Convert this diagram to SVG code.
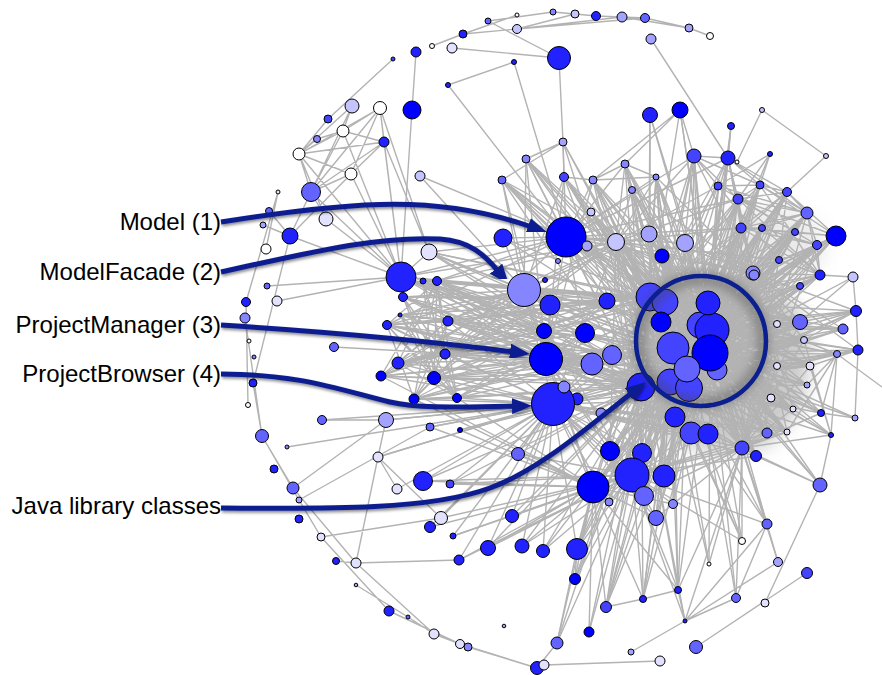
<svg xmlns="http://www.w3.org/2000/svg" width="882" height="675" viewBox="0 0 882 675">
<style>
.e{stroke:#b3b3b3;stroke-width:1.4;fill:none;stroke-linecap:round}
#nodes circle{stroke:#000;stroke-width:1}
.c0{fill:#0000ff}.c1{fill:#2222ff}.c2{fill:#4444ff}.c3{fill:#6363ff}.c4{fill:#8585ff}.c5{fill:#a3a3ff}.c6{fill:#c4c4ff}.c7{fill:#e2e2ff}.c8{fill:#ffffff}
.lbl{font-family:"Liberation Sans",Arial,Helvetica,sans-serif;font-size:24px;fill:#000;text-anchor:end}
.arr{fill:none;stroke:#0b1f8f;stroke-width:5;marker-end:url(#head);filter:url(#sh)}
</style>
<defs>
<marker id="head" viewBox="0 0 10 8" refX="2" refY="4" markerWidth="4" markerHeight="3.2" orient="auto" markerUnits="strokeWidth">
<path d="M0 0L10 4L0 8z" fill="#0b1f8f"/>
</marker>
<filter id="sh" x="-10%" y="-20%" width="120%" height="140%">
<feDropShadow dx="1" dy="2" stdDeviation="1.5" flood-color="#000" flood-opacity="0.45"/>
</filter>
<filter id="blur" x="-30%" y="-30%" width="160%" height="160%">
<feGaussianBlur stdDeviation="5"/>
</filter>
<filter id="soft" x="-30%" y="-30%" width="160%" height="160%">
<feGaussianBlur stdDeviation="9"/>
</filter>
</defs>
<rect width="882" height="675" fill="#fff"/>

<!-- solid-looking bundle of edges round the library cluster -->
<path d="M645 276L700 266L760 284L800 308L812 350L802 408L768 446L722 455L666 440L636 402L630 334Z" fill="#b9b9b9" opacity="0.75" filter="url(#soft)"/>
<path d="M722 212L780 204L818 222L826 256L804 280L760 286L726 264Z" fill="#c4c4c4" opacity="0.35" filter="url(#soft)"/>

<!-- connectors -->
<g id="edges" class="e">
<path d="M432 46L463 34M463 34L517 15M463 34L517 29M488 21L553 12M488 21L559 58M517 29L575 14M517 29L622 17M517 29L645 18M553 12L575 14M575 14L596 16M596 16L622 17M596 16L645 18M622 17L645 18M622 17L689 28M645 18L689 28M689 28L710 36M452 48L559 58M559 58L563 142M514 62L448 85M448 85L566 237M514 62L566 237M412 110L416 52M412 110L401 277M393 59L328 119M420 176L524 290M651 39L728 158M680 110L593 180M680 110L625 164M680 110L694 156M650 115L649 234M694 156L728 158M731 126L728 158M762 110L737 162M762 110L826 156M826 156L787 192M770 154L760 185M770 154L738 199M563 142L526 159M563 142L502 180M563 142L564 177M593 180L656 177M593 180L625 164M625 164L656 177M564 177L593 180"/>
<path d="M343 131L380 108M343 131L384 142M343 131L352 106M299 154L343 131M299 154L380 108M299 154L384 142M299 154L352 106M351 174L380 108M351 174L384 142M351 174L299 154M311 192L380 108M311 192L343 131M311 192L384 142M311 192L351 174M311 192L299 154M311 192L352 106M384 142L380 108M328 119L299 154M317 139L343 131M317 139L299 154M384 142L401 277M380 108L401 277M343 131L401 277M380 108L429 252M299 154L401 277M351 174L401 277M326 219L401 277M290 236L401 277M267 286L401 277M277 301L401 277M311 192L401 277M311 192L290 236M311 192L326 219M290 236L263 225M290 236L269 211M326 219L299 154M351 174L290 236M384 142L429 252"/>
<path d="M278 192L246 302M278 192L266 249M290 236L253 383M246 302L248 405M245 318L262 436M253 383L262 436M262 436L293 488M262 436L299 500M299 500L321 537M293 488L356 563M321 537L389 611M356 585L408 617M356 563L434 634M389 611L460 644M434 634L468 647M460 644L537 668M468 647L537 668M408 617L434 634M336 561L356 563M356 563L459 560M356 563L378 457M378 457L441 518M378 457L397 489M378 457L553 404M321 537L441 518M293 488L386 420M299 500L430 427M322 420L386 420M287 447L553 404M386 420L378 457M386 420L553 404M537 668L557 643M660 661L544 665"/>
<path d="M577 549L575 579M557 643L577 549M589 632L593 487M606 607L643 599M643 599L678 590M685 621L736 598M685 621L778 562M685 621L631 652M685 621L678 590M696 647L807 573M765 603L820 485M820 485L756 456M820 485L831 435M820 485L742 448M742 541L691 433M709 564L675 417M778 562L767 524M767 524L736 598M767 524L685 621M736 598L708 434M853 277L820 275M853 277L800 322M853 277L856 311M856 311L858 350M858 350L855 418M856 311L800 322M856 311L804 340M843 329L804 340M843 329L777 324M858 350L810 366M858 350L777 366M837 354L882 387M837 354L807 385M837 354L831 435M837 354L821 413M837 354L787 432M821 413L855 418M821 413L777 366M831 435L804 340M831 435L810 366"/>
<path d="M738 199L760 185M738 199L787 192M738 199L807 213M738 199L741 228M738 199L795 232M738 199L836 236M718 186L760 185M718 186L807 213M718 186L817 245M760 185L787 192M760 185L807 213M760 185L741 228M760 185L820 275M787 192L807 213M787 192L741 228M787 192L779 260M807 213L741 228M807 213L817 245M807 213L820 275M807 213L762 228M741 228L762 228M741 228L795 232M741 228L817 245M741 228L820 275M762 228L817 245M795 232L817 245M795 232L779 260M836 236L817 245M817 245L779 260M817 245L820 275M779 260L820 275M820 275L800 286M753 273L807 213M753 273L787 192M753 273L738 199M728 158L760 185M728 158L787 192M728 158L807 213M728 158L741 228M728 158L738 199M694 156L738 199M694 156L718 186M694 156L760 185M770 154L718 186M718 186L795 232M760 185L836 236M787 192L836 236M741 228L836 236M718 186L779 260M738 199L820 275M762 228L820 275M795 232L836 236"/>
<path d="M387 325L445 354M387 325L434 378M387 325L457 398M387 325L448 321M387 325L414 399M398 363L448 321M398 363L457 398M398 363L437 281M381 376L448 321M381 376L437 281M381 376L445 354M400 315L448 321M400 315L445 354M400 315L434 378M403 297L448 321M403 297L457 398M403 297L445 354M423 281L434 378M423 281L457 398M437 281L414 399M437 281L434 378M437 281L445 354M437 281L457 398M448 321L414 399M448 321L434 378M445 354L414 399M434 378L457 398M414 399L457 398M401 277L429 252M423 281L445 354M403 297L434 378M400 315L457 398M387 325L437 281M398 363L445 354M381 376L434 378M414 399L434 378M334 347L546 359"/>
<path d="M387 325L592 364M387 325L612 355M398 363L585 333M398 363L607 301M381 376L612 355M381 376L550 305M403 297L592 364M403 297L544 331M423 281L612 355M423 281L585 333M437 281L592 364M437 281L544 331M448 321L612 355M448 321L607 301M445 354L585 333M445 354L550 305M434 378L607 301M434 378L592 364M414 399L612 355M414 399L544 331M457 398L585 333M457 398L607 301M401 277L592 364M401 277L544 331M429 252L612 355M429 252L550 305M400 315L585 333M400 315L607 301"/>
<path d="M566 237L502 180M566 237L526 159M566 237L563 142M566 237L564 177M566 237L593 180M566 237L591 212M566 237L401 277M566 237L429 252M566 237L437 281M566 237L503 238M566 237L387 325M566 237L445 354M566 237L712 330M566 237L673 348M566 237L650 297M566 237L708 303M566 237L710 353M566 237L641 387M566 237L661 322M566 237L546 359M566 237L585 333M566 237L607 301M566 237L616 242M566 237L685 243M566 237L662 256M566 237L738 199M566 237L741 228M566 237L753 273M566 237L420 176M566 237L625 164M566 237L656 177M566 237L694 156M566 237L728 158M566 237L779 260M566 237L800 322"/>
<path d="M524 290L401 277M524 290L429 252M524 290L423 281M524 290L437 281M524 290L403 297M524 290L387 325M524 290L448 321M524 290L445 354M524 290L398 363M524 290L434 378M524 290L381 376M524 290L503 238M524 290L526 159M524 290L502 180M524 290L564 177M524 290L650 297M524 290L673 348M524 290L712 330M524 290L710 353M524 290L641 387M524 290L687 369M524 290L708 303M524 290L661 322M524 290L607 301M524 290L585 333M524 290L546 359M524 290L553 404M524 290L616 242M524 290L649 234M524 290L665 302M524 290L593 487M524 290L632 475M524 290L400 315M524 290L414 399"/>
<path d="M546 359L387 325M546 359L398 363M546 359L381 376M546 359L434 378M546 359L414 399M546 359L457 398M546 359L445 354M546 359L448 321M546 359L403 297M546 359L400 315M546 359L650 297M546 359L673 348M546 359L712 330M546 359L710 353M546 359L687 369M546 359L670 382M546 359L689 388M546 359L641 387M546 359L675 417M546 359L708 434M546 359L691 433M546 359L632 475M546 359L593 487M546 359L664 476M546 359L610 451M546 359L612 355M546 359L592 364M546 359L585 333M546 359L544 331M546 359L550 305M546 359L607 301M546 359L526 159M546 359L564 177M546 359L593 180M546 359L502 180M546 359L753 273M546 359L742 448M546 359L767 433M546 359L771 398M546 359L401 277M546 359L423 281M546 359L437 281"/>
<path d="M553 404L322 420M553 404L386 420M553 404L430 427M553 404L460 430M553 404L378 457M553 404L423 481M553 404L450 484M553 404L397 489M553 404L441 518M553 404L430 527M553 404L512 516M553 404L488 548M553 404L522 546M553 404L543 551M553 404L459 560M553 404L453 536M553 404L518 454M553 404L414 399M553 404L434 378M553 404L457 398M553 404L381 376M553 404L398 363M553 404L641 387M553 404L673 348M553 404L712 330M553 404L710 353M553 404L687 369M553 404L670 382M553 404L689 388M553 404L675 417M553 404L691 433M553 404L708 434M553 404L610 451M553 404L642 453M553 404L632 475M553 404L593 487M553 404L664 476M553 404L644 496M553 404L656 518M553 404L577 549M553 404L609 502M553 404L650 297M553 404L665 302M553 404L708 303M553 404L742 448M553 404L756 456M553 404L767 433M553 404L787 432M553 404L771 398M553 404L616 242M553 404L387 325M553 404L445 354M553 404L448 321"/>
<path d="M712 330L738 199M712 330L718 186M712 330L760 185M712 330L787 192M712 330L807 213M712 330L741 228M712 330L762 228M712 330L795 232M712 330L836 236M712 330L817 245M712 330L779 260M712 330L820 275M712 330L800 286M712 330L753 273M712 330L800 322M712 330L777 324M712 330L804 340M712 330L837 354M712 330L856 311M712 330L843 329M712 330L858 350M712 330L777 366M712 330L810 366M712 330L807 385M712 330L771 398M712 330L793 409M712 330L821 413M712 330L787 432M712 330L767 433M712 330L742 448M712 330L756 456M712 330L820 485M712 330L767 524M712 330L656 177M712 330L632 190M712 330L625 164M712 330L694 156M712 330L728 158M712 330L593 180M712 330L564 177M712 330L650 115M712 330L680 110M712 330L591 212M712 330L616 242M712 330L649 234M712 330L685 243M712 330L662 256M712 330L587 246"/>
<path d="M673 348L738 199M673 348L760 185M673 348L787 192M673 348L807 213M673 348L741 228M673 348L795 232M673 348L836 236M673 348L817 245M673 348L779 260M673 348L820 275M673 348L800 322M673 348L804 340M673 348L810 366M673 348L807 385M673 348L793 409M673 348L821 413M673 348L831 435M673 348L767 433M673 348L742 448M673 348L756 456M673 348L694 156M673 348L728 158M673 348L656 177M673 348L632 190M673 348L625 164M673 348L593 180M673 348L564 177M673 348L563 142M673 348L526 159M673 348L502 180M673 348L591 212M673 348L616 242M673 348L649 234M673 348L685 243M673 348L662 256M673 348L587 246M673 348L503 238M673 348L429 252M673 348L401 277M673 348L437 281M673 348L448 321M673 348L445 354M673 348L434 378M673 348L457 398M673 348L414 399M673 348L607 301M673 348L612 355M673 348L592 364M673 348L585 333M673 348L550 305M673 348L544 331M673 348L610 451M673 348L632 475M673 348L593 487M673 348L664 476M673 348L644 496M673 348L656 518M673 348L673 504M673 348L609 502M673 348L577 549M673 348L575 579M673 348L606 607M673 348L643 599M673 348L678 590M673 348L709 564M673 348L742 541M673 348L767 524"/>
<path d="M710 353L738 199M710 353L718 186M710 353L760 185M710 353L787 192M710 353L807 213M710 353L741 228M710 353L762 228M710 353L795 232M710 353L836 236M710 353L817 245M710 353L779 260M710 353L820 275M710 353L800 286M710 353L853 277M710 353L856 311M710 353L843 329M710 353L858 350M710 353L837 354M710 353L804 340M710 353L777 366M710 353L810 366M710 353L807 385M710 353L771 398M710 353L793 409M710 353L787 432M710 353L821 413M710 353L855 418M710 353L831 435M710 353L694 156M710 353L728 158M710 353L731 126M710 353L656 177M710 353L625 164M710 353L632 190M710 353L591 212M710 353L616 242M710 353L649 234M710 353L685 243M710 353L662 256M710 353L632 475M710 353L664 476M710 353L644 496M710 353L656 518M710 353L673 504M710 353L643 599M710 353L678 590M710 353L606 607M710 353L736 598M710 353L709 564M710 353L742 541M710 353L767 524M710 353L820 485"/>
<path d="M641 387L502 180M641 387L526 159M641 387L563 142M641 387L564 177M641 387L593 180M641 387L625 164M641 387L632 190M641 387L656 177M641 387L694 156M641 387L718 186M641 387L738 199M641 387L741 228M641 387L762 228M641 387L779 260M641 387L807 213M641 387L795 232M641 387L817 245M641 387L820 275M641 387L800 322M641 387L777 324M641 387L804 340M641 387L810 366M641 387L777 366M641 387L771 398M641 387L793 409M641 387L787 432M641 387L767 433M641 387L742 448M641 387L756 456M641 387L401 277M641 387L429 252M641 387L423 281M641 387L437 281M641 387L403 297M641 387L387 325M641 387L448 321M641 387L445 354M641 387L398 363M641 387L381 376M641 387L434 378M641 387L414 399M641 387L457 398M641 387L430 427M641 387L460 430M641 387L518 454M641 387L423 481M641 387L450 484M641 387L512 516M641 387L488 548M641 387L522 546M641 387L543 551M641 387L577 549M641 387L575 579M641 387L589 632M641 387L557 643M641 387L606 607M641 387L643 599M641 387L678 590M641 387L685 621"/>
<path d="M708 303L738 199M708 303L718 186M708 303L760 185M708 303L787 192M708 303L807 213M708 303L741 228M708 303L762 228M708 303L795 232M708 303L836 236M708 303L817 245M708 303L779 260M708 303L820 275M708 303L800 286M708 303L753 273M708 303L856 311M708 303L843 329M708 303L800 322M708 303L777 324M708 303L804 340M708 303L837 354M708 303L777 366M708 303L810 366M708 303L807 385M708 303L771 398M708 303L694 156M708 303L728 158M708 303L656 177M708 303L632 190M708 303L625 164M708 303L593 180M708 303L650 115M708 303L680 110M708 303L770 154M708 303L731 126"/>
<path d="M650 297L502 180M650 297L526 159M650 297L563 142M650 297L564 177M650 297L593 180M650 297L625 164M650 297L632 190M650 297L656 177M650 297L694 156M650 297L728 158M650 297L650 115M650 297L680 110M650 297L591 212M650 297L587 246M650 297L503 238M650 297L429 252M650 297L401 277M650 297L437 281M650 297L423 281M650 297L403 297M650 297L387 325M650 297L400 315M650 297L448 321M650 297L445 354M650 297L398 363M650 297L434 378M650 297L738 199M650 297L718 186M650 297L760 185M650 297L741 228M650 297L779 260M650 297L800 322M650 297L810 366M650 297L771 398M650 297L787 432M650 297L742 448M650 297L632 475M650 297L593 487M650 297L664 476M650 297L644 496M650 297L610 451M650 297L642 453M650 297L577 549"/>
<path d="M632 475L512 516M632 475L488 548M632 475L522 546M632 475L543 551M632 475L459 560M632 475L453 536M632 475L430 527M632 475L441 518M632 475L423 481M632 475L450 484M632 475L518 454M632 475L577 549M632 475L575 579M632 475L589 632M632 475L606 607M632 475L643 599M632 475L678 590M632 475L685 621M632 475L557 643M632 475L656 518M632 475L673 504M632 475L609 502M632 475L742 541M632 475L767 524M632 475L742 448M632 475L756 456M632 475L767 433M632 475L787 432M632 475L675 417M632 475L708 434M632 475L691 433"/>
<path d="M593 487L512 516M593 487L488 548M593 487L522 546M593 487L543 551M593 487L459 560M593 487L453 536M593 487L423 481M593 487L450 484M593 487L518 454M593 487L577 549M593 487L575 579M593 487L606 607M593 487L643 599M593 487L678 590M593 487L557 643M593 487L656 518M593 487L673 504M593 487L609 502M593 487L460 430M593 487L430 427M593 487L414 399M593 487L457 398M593 487L381 376M593 487L712 330M593 487L710 353M593 487L687 369M593 487L689 388"/>
<path d="M687 369L760 185M687 369L807 213M687 369L741 228M687 369L817 245M687 369L779 260M687 369L800 322M687 369L804 340M687 369L810 366M687 369L793 409M687 369L787 432M687 369L656 177M687 369L632 190M687 369L593 180M687 369L564 177M687 369L502 180M687 369L591 212M687 369L616 242M687 369L685 243M687 369L662 256M687 369L401 277M687 369L437 281M687 369L448 321M687 369L445 354M687 369L434 378M687 369L612 355M687 369L585 333M687 369L610 451M687 369L642 453M687 369L664 476M687 369L644 496M687 369L656 518M687 369L673 504M687 369L606 607M687 369L643 599M687 369L678 590"/>
<path d="M665 302L738 199M665 302L787 192M665 302L741 228M665 302L795 232M665 302L820 275M665 302L779 260M665 302L777 324M665 302L804 340M665 302L777 366M665 302L810 366M665 302L771 398M665 302L793 409M665 302L767 433M665 302L742 448M665 302L756 456M665 302L728 158M665 302L694 156M665 302L656 177M665 302L625 164M665 302L593 180M665 302L564 177M665 302L526 159M665 302L502 180M665 302L591 212M665 302L616 242M665 302L649 234M665 302L685 243M665 302L429 252M665 302L401 277M665 302L437 281M665 302L403 297M665 302L448 321M665 302L387 325M665 302L445 354M665 302L398 363M665 302L664 476M665 302L632 475M665 302L644 496M665 302L675 417M665 302L708 434M665 302L691 433"/>
<path d="M753 273L800 322M753 273L804 340M753 273L810 366M753 273L777 366M753 273L771 398M753 273L793 409M753 273L787 432M753 273L767 433M753 273L742 448M753 273L856 311M753 273L843 329M753 273L858 350M753 273L820 275M753 273L836 236M753 273L817 245M753 273L762 228M753 273L741 228M753 273L728 158M753 273L694 156M753 273L656 177M753 273L632 190M753 273L616 242M753 273L649 234M753 273L685 243M753 273L662 256M753 273L675 417M753 273L691 433M753 273L708 434M753 273L664 476M753 273L632 475"/>
<path d="M742 448L800 322M742 448L804 340M742 448L810 366M742 448L777 366M742 448L771 398M742 448L793 409M742 448L787 432M742 448L767 433M742 448L821 413M742 448L831 435M742 448L741 228M742 448L779 260M742 448L817 245M742 448L807 213M742 448L685 243M742 448L662 256M742 448L649 234M742 448L616 242M742 448L664 476M742 448L644 496M742 448L656 518M742 448L673 504M742 448L709 564M742 448L742 541M742 448L767 524M742 448L778 562M742 448L736 598M742 448L678 590M742 448L685 621"/>
<path d="M616 242L738 199M616 242L718 186M616 242L741 228M616 242L779 260M616 242L800 322M616 242L777 324M616 242L810 366M616 242L771 398M616 242L787 432M616 242L767 433M616 242L502 180M616 242L526 159M616 242L564 177M616 242L593 180M616 242L625 164M616 242L656 177M616 242L694 156M616 242L632 190M616 242L401 277M616 242L437 281M616 242L448 321M616 242L445 354M616 242L434 378M616 242L610 451M616 242L642 453M616 242L632 475M616 242L664 476M616 242L675 417M616 242L691 433"/>
<path d="M717 370L738 199M717 370L760 185M717 370L787 192M717 370L807 213M717 370L741 228M717 370L762 228M717 370L795 232M717 370L836 236M717 370L817 245M717 370L779 260M717 370L820 275M717 370L800 286M717 370L753 273M717 370L856 311M717 370L843 329M717 370L858 350M717 370L837 354M717 370L800 322M717 370L777 324M717 370L804 340M717 370L777 366M717 370L810 366M717 370L807 385M717 370L771 398M717 370L793 409M717 370L821 413M717 370L855 418M717 370L831 435M717 370L787 432M717 370L767 433M717 370L742 448M717 370L756 456M717 370L820 485M717 370L767 524M717 370L616 242M717 370L649 234M717 370L685 243M717 370L662 256M717 370L607 301M717 370L612 355M717 370L592 364M717 370L585 333"/>
<path d="M700 325L738 199M700 325L760 185M700 325L787 192M700 325L807 213M700 325L741 228M700 325L762 228M700 325L795 232M700 325L836 236M700 325L817 245M700 325L779 260M700 325L820 275M700 325L800 286M700 325L856 311M700 325L843 329M700 325L858 350M700 325L837 354M700 325L800 322M700 325L777 324M700 325L804 340M700 325L777 366M700 325L810 366M700 325L807 385M700 325L771 398M700 325L793 409M700 325L821 413M700 325L831 435M700 325L787 432M700 325L767 433M700 325L742 448M700 325L756 456M700 325L694 156M700 325L728 158M700 325L656 177M700 325L632 190M700 325L593 180M700 325L625 164M700 325L591 212M700 325L587 246M700 325L632 475M700 325L664 476M700 325L610 451M700 325L642 453"/>
<path d="M670 382L738 199M670 382L787 192M670 382L741 228M670 382L795 232M670 382L817 245M670 382L820 275M670 382L800 322M670 382L804 340M670 382L810 366M670 382L793 409M670 382L831 435M670 382L767 433M670 382L756 456M670 382L632 475M670 382L593 487M670 382L664 476M670 382L644 496M670 382L656 518M670 382L610 451M670 382L642 453M670 382L577 549M670 382L606 607M670 382L643 599M670 382L678 590M670 382L767 524M670 382L742 541M670 382L437 281M670 382L448 321M670 382L445 354M670 382L434 378M670 382L457 398M670 382L401 277"/>
<path d="M689 388L760 185M689 388L807 213M689 388L762 228M689 388L836 236M689 388L779 260M689 388L800 286M689 388L856 311M689 388L858 350M689 388L777 324M689 388L777 366M689 388L807 385M689 388L821 413M689 388L787 432M689 388L742 448M689 388L502 180M689 388L526 159M689 388L564 177M689 388L593 180M689 388L625 164M689 388L656 177M689 388L694 156M689 388L728 158M689 388L591 212"/>
</g>

<!-- nodes -->
<g id="nodes">
<g id="n1"><circle class="c8" cx="517" cy="15" r="2"/></g>
<g id="n2"><circle class="c4" cx="553" cy="12" r="3"/></g>
<g id="n3"><circle class="c6" cx="575" cy="14" r="4"/></g>
<g id="n4"><circle class="c1" cx="596" cy="16" r="4.5"/></g>
<g id="n5"><circle class="c5" cx="622" cy="17" r="5"/></g>
<g id="n6"><circle class="c3" cx="645" cy="18" r="4.5"/></g>
<g id="n7"><circle class="c5" cx="689" cy="28" r="4"/></g>
<g id="n8"><circle class="c8" cx="710" cy="36" r="3.5"/></g>
<g id="n9"><circle class="c6" cx="517" cy="29" r="4.5"/></g>
<g id="n10"><circle class="c3" cx="488" cy="21" r="3"/></g>
<g id="n11"><circle class="c1" cx="463" cy="34" r="4"/></g>
<g id="n12"><circle class="c7" cx="452" cy="48" r="5"/></g>
<g id="n13"><circle class="c8" cx="432" cy="46" r="2.5"/></g>
<g id="n14"><circle class="c1" cx="416" cy="52" r="5"/></g>
<g id="n15"><circle class="c2" cx="393" cy="59" r="2"/></g>
<g id="n16"><circle class="c1" cx="559" cy="58" r="11.5"/></g>
<g id="n17"><circle class="c1" cx="514" cy="62" r="2.5"/></g>
<g id="n18"><circle class="c1" cx="448" cy="85" r="2.5"/></g>
<g id="n19"><circle class="c5" cx="651" cy="39" r="5"/></g>
<g id="n20"><circle class="c0" cx="412" cy="110" r="9"/></g>
<g id="n21"><circle class="c1" cx="650" cy="115" r="7.5"/></g>
<g id="n22"><circle class="c0" cx="680" cy="110" r="8"/></g>
<g id="n23"><circle class="c5" cx="563" cy="142" r="4"/></g>
<g id="n24"><circle class="c4" cx="526" cy="159" r="4"/></g>
<g id="n25"><circle class="c3" cx="502" cy="180" r="4"/></g>
<g id="n26"><circle class="c2" cx="564" cy="177" r="4.5"/></g>
<g id="n27"><circle class="c4" cx="593" cy="180" r="4"/></g>
<g id="n28"><circle class="c4" cx="625" cy="164" r="4"/></g>
<g id="n29"><circle class="c4" cx="656" cy="177" r="3"/></g>
<g id="n30"><circle class="c4" cx="632" cy="190" r="3.5"/></g>
<g id="n31"><circle class="c2" cx="694" cy="156" r="7"/></g>
<g id="n32"><circle class="c1" cx="728" cy="158" r="7"/></g>
<g id="n33"><circle class="c1" cx="731" cy="126" r="3.5"/></g>
<g id="n34"><circle class="c6" cx="762" cy="110" r="2.5"/></g>
<g id="n35"><circle class="c8" cx="737" cy="162" r="2"/></g>
<g id="n36"><circle class="c1" cx="770" cy="154" r="2.5"/></g>
<g id="n37"><circle class="c6" cx="826" cy="156" r="2.5"/></g>
<g id="n38"><circle class="c2" cx="718" cy="186" r="4"/></g>
<g id="n39"><circle class="c2" cx="760" cy="185" r="4"/></g>
<g id="n40"><circle class="c2" cx="787" cy="192" r="4.5"/></g>
<g id="n41"><circle class="c2" cx="738" cy="199" r="5"/></g>
<g id="n42"><circle class="c3" cx="807" cy="213" r="6"/></g>
<g id="n43"><circle class="c2" cx="741" cy="228" r="5"/></g>
<g id="n44"><circle class="c2" cx="762" cy="228" r="3.5"/></g>
<g id="n45"><circle class="c2" cx="795" cy="232" r="3.5"/></g>
<g id="n46"><circle class="c0" cx="836" cy="236" r="10"/></g>
<g id="n47"><circle class="c2" cx="817" cy="245" r="4.5"/></g>
<g id="n48"><circle class="c2" cx="779" cy="260" r="3.5"/></g>
<g id="n49"><circle class="c1" cx="820" cy="275" r="5"/></g>
<g id="n50"><circle class="c6" cx="853" cy="277" r="5"/></g>
<g id="n51"><circle class="c2" cx="800" cy="286" r="3.5"/></g>
<g id="n52"><circle class="c4" cx="753" cy="273" r="7"/></g>
<g id="n53"><circle class="c6" cx="591" cy="212" r="4"/></g>
<g id="n54"><circle class="c6" cx="616" cy="242" r="8.5"/></g>
<g id="n55"><circle class="c5" cx="649" cy="234" r="8"/></g>
<g id="n56"><circle class="c5" cx="685" cy="243" r="8.5"/></g>
<g id="n57"><circle class="c0" cx="662" cy="256" r="7"/></g>
<g id="n58"><circle class="c1" cx="503" cy="238" r="9"/></g>
<g id="model"><circle class="c0" cx="566" cy="237" r="20"/></g>
<g id="n59"><circle class="c5" cx="587" cy="246" r="5"/></g>
<g id="n60"><circle class="c4" cx="558" cy="261" r="2.5"/></g>
<g id="n61"><circle class="c1" cx="545" cy="280" r="2.5"/></g>
<g id="modelfacade"><circle class="c4" cx="524" cy="290" r="16.5"/></g>
<g id="n62"><circle class="c1" cx="550" cy="305" r="10"/></g>
<g id="n63"><circle class="c1" cx="607" cy="301" r="8"/></g>
<g id="n64"><circle class="c0" cx="544" cy="331" r="7.5"/></g>
<g id="n65"><circle class="c0" cx="585" cy="333" r="9.5"/></g>
<g id="projectmanager"><circle class="c0" cx="546" cy="359" r="16.5"/></g>
<g id="n66"><circle class="c3" cx="592" cy="364" r="11"/></g>
<g id="n67"><circle class="c3" cx="612" cy="355" r="9.5"/></g>
<g id="n68"><circle class="c1" cx="577" cy="399" r="6"/></g>
<g id="projectbrowser"><circle class="c1" cx="553" cy="404" r="21.5"/></g>
<g id="n69"><circle class="c4" cx="564" cy="387" r="6"/></g>
<g id="n70"><circle class="c4" cx="601" cy="413" r="5"/></g>
<g id="n71"><circle class="c3" cx="518" cy="454" r="6.5"/></g>
<g id="n72"><circle class="c0" cx="610" cy="451" r="9.5"/></g>
<g id="n73"><circle class="c1" cx="642" cy="453" r="9.5"/></g>
<g id="n74"><circle class="c2" cx="650" cy="297" r="14"/></g>
<g id="n75"><circle class="c2" cx="665" cy="302" r="13"/></g>
<g id="n76"><circle class="c0" cx="661" cy="322" r="10"/></g>
<g id="n77"><circle class="c2" cx="700" cy="325" r="13"/></g>
<g id="n78"><circle class="c1" cx="712" cy="330" r="17"/></g>
<g id="n79"><circle class="c1" cx="708" cy="303" r="12"/></g>
<g id="n80"><circle class="c3" cx="717" cy="370" r="10"/></g>
<g id="n81"><circle class="c0" cx="710" cy="353" r="18"/></g>
<g id="n82"><circle class="c2" cx="673" cy="348" r="16"/></g>
<g id="n83"><circle class="c2" cx="670" cy="382" r="13"/></g>
<g id="n84"><circle class="c2" cx="689" cy="388" r="13.5"/></g>
<g id="n85"><circle class="c3" cx="687" cy="369" r="13"/></g>
<g id="n86"><circle class="c1" cx="641" cy="387" r="14"/></g>
<g id="n87"><circle class="c4" cx="754" cy="275" r="5"/></g>
<g id="n88"><circle class="c7" cx="777" cy="324" r="3.5"/></g>
<g id="n89"><circle class="c3" cx="800" cy="322" r="7.5"/></g>
<g id="n90"><circle class="c1" cx="856" cy="311" r="5.5"/></g>
<g id="n91"><circle class="c3" cx="843" cy="329" r="5"/></g>
<g id="n92"><circle class="c1" cx="858" cy="350" r="5"/></g>
<g id="n93"><circle class="c6" cx="804" cy="340" r="3.5"/></g>
<g id="n94"><circle class="c4" cx="837" cy="354" r="3.5"/></g>
<g id="n95"><circle class="c7" cx="777" cy="366" r="3.5"/></g>
<g id="n96"><circle class="c7" cx="810" cy="366" r="4"/></g>
<g id="n97"><circle class="c5" cx="807" cy="385" r="3"/></g>
<g id="n98"><circle class="c7" cx="771" cy="398" r="4"/></g>
<g id="n99"><circle class="c7" cx="793" cy="409" r="3"/></g>
<g id="n100"><circle class="c1" cx="821" cy="413" r="3.5"/></g>
<g id="n101"><circle class="c5" cx="855" cy="418" r="3"/></g>
<g id="n102"><circle class="c1" cx="831" cy="435" r="2.5"/></g>
<g id="n103"><circle class="c7" cx="787" cy="432" r="3"/></g>
<g id="n104"><circle class="c3" cx="767" cy="433" r="5"/></g>
<g id="n105"><circle class="c2" cx="742" cy="448" r="7"/></g>
<g id="n106"><circle class="c1" cx="756" cy="456" r="5.5"/></g>
<g id="n107"><circle class="c1" cx="675" cy="417" r="10"/></g>
<g id="n108"><circle class="c2" cx="691" cy="433" r="11"/></g>
<g id="n109"><circle class="c1" cx="708" cy="434" r="10"/></g>
<g id="n110"><circle class="c1" cx="632" cy="475" r="17"/></g>
<g id="n111"><circle class="c0" cx="593" cy="487" r="16"/></g>
<g id="n112"><circle class="c1" cx="664" cy="476" r="11"/></g>
<g id="n113"><circle class="c3" cx="644" cy="496" r="9.5"/></g>
<g id="n114"><circle class="c4" cx="609" cy="502" r="4"/></g>
<g id="n115"><circle class="c4" cx="673" cy="504" r="4.5"/></g>
<g id="n116"><circle class="c3" cx="656" cy="518" r="7.5"/></g>
<g id="n117"><circle class="c3" cx="767" cy="524" r="5"/></g>
<g id="n118"><circle class="c3" cx="820" cy="485" r="7"/></g>
<g id="n119"><circle class="c8" cx="742" cy="541" r="3.5"/></g>
<g id="n120"><circle class="c8" cx="709" cy="564" r="2"/></g>
<g id="n121"><circle class="c5" cx="778" cy="562" r="4.5"/></g>
<g id="n122"><circle class="c2" cx="807" cy="573" r="5.5"/></g>
<g id="n123"><circle class="c1" cx="577" cy="549" r="10.5"/></g>
<g id="n124"><circle class="c0" cx="575" cy="579" r="5.5"/></g>
<g id="n125"><circle class="c2" cx="606" cy="607" r="5.5"/></g>
<g id="n126"><circle class="c1" cx="643" cy="599" r="3.5"/></g>
<g id="n127"><circle class="c1" cx="678" cy="590" r="3.5"/></g>
<g id="n128"><circle class="c3" cx="736" cy="598" r="4.5"/></g>
<g id="n129"><circle class="c7" cx="765" cy="603" r="4"/></g>
<g id="n130"><circle class="c1" cx="685" cy="621" r="2"/></g>
<g id="n131"><circle class="c0" cx="589" cy="632" r="5"/></g>
<g id="n132"><circle class="c3" cx="557" cy="643" r="6"/></g>
<g id="n133"><circle class="c3" cx="696" cy="647" r="6.5"/></g>
<g id="n134"><circle class="c5" cx="631" cy="652" r="3"/></g>
<g id="n135"><circle class="c7" cx="660" cy="661" r="5"/></g>
<g id="n136"><circle class="c1" cx="537" cy="668" r="6.5"/></g>
<g id="n137"><circle class="c7" cx="544" cy="665" r="5"/></g>
<g id="n138"><circle class="c3" cx="322" cy="420" r="4.5"/></g>
<g id="n139"><circle class="c5" cx="386" cy="420" r="7.5"/></g>
<g id="n140"><circle class="c3" cx="430" cy="427" r="4"/></g>
<g id="n141"><circle class="c0" cx="460" cy="430" r="2.5"/></g>
<g id="n142"><circle class="c3" cx="262" cy="436" r="6.5"/></g>
<g id="n143"><circle class="c4" cx="287" cy="447" r="2"/></g>
<g id="n144"><circle class="c7" cx="378" cy="457" r="5"/></g>
<g id="n145"><circle class="c1" cx="274" cy="469" r="4"/></g>
<g id="n146"><circle class="c1" cx="423" cy="481" r="9.5"/></g>
<g id="n147"><circle class="c2" cx="450" cy="484" r="4"/></g>
<g id="n148"><circle class="c7" cx="397" cy="489" r="5"/></g>
<g id="n149"><circle class="c3" cx="293" cy="488" r="6"/></g>
<g id="n150"><circle class="c5" cx="299" cy="500" r="3"/></g>
<g id="n151"><circle class="c1" cx="299" cy="519" r="4"/></g>
<g id="n152"><circle class="c7" cx="441" cy="518" r="6.5"/></g>
<g id="n153"><circle class="c1" cx="430" cy="527" r="5.5"/></g>
<g id="n154"><circle class="c1" cx="512" cy="516" r="6.5"/></g>
<g id="n155"><circle class="c7" cx="321" cy="537" r="4"/></g>
<g id="n156"><circle class="c1" cx="453" cy="536" r="3"/></g>
<g id="n157"><circle class="c1" cx="488" cy="548" r="7.5"/></g>
<g id="n158"><circle class="c1" cx="522" cy="546" r="7"/></g>
<g id="n159"><circle class="c1" cx="543" cy="551" r="6.5"/></g>
<g id="n160"><circle class="c1" cx="336" cy="561" r="3.5"/></g>
<g id="n161"><circle class="c7" cx="356" cy="563" r="5"/></g>
<g id="n162"><circle class="c1" cx="459" cy="560" r="5"/></g>
<g id="n163"><circle class="c5" cx="356" cy="585" r="1.8"/></g>
<g id="n164"><circle class="c1" cx="389" cy="611" r="5"/></g>
<g id="n165"><circle class="c3" cx="408" cy="617" r="2"/></g>
<g id="n166"><circle class="c5" cx="504" cy="626" r="1.8"/></g>
<g id="n167"><circle class="c7" cx="434" cy="634" r="5"/></g>
<g id="n168"><circle class="c7" cx="460" cy="644" r="4.5"/></g>
<g id="n169"><circle class="c4" cx="468" cy="647" r="4"/></g>
<g id="n170"><circle class="c3" cx="269" cy="211" r="3.5"/></g>
<g id="n171"><circle class="c5" cx="263" cy="225" r="3"/></g>
<g id="n172"><circle class="c1" cx="290" cy="236" r="8"/></g>
<g id="n173"><circle class="c8" cx="266" cy="249" r="5"/></g>
<g id="n174"><circle class="c3" cx="267" cy="286" r="3"/></g>
<g id="n175"><circle class="c7" cx="277" cy="301" r="5"/></g>
<g id="n176"><circle class="c1" cx="246" cy="302" r="4.5"/></g>
<g id="n177"><circle class="c4" cx="245" cy="318" r="5"/></g>
<g id="n178"><circle class="c8" cx="249" cy="341" r="2"/></g>
<g id="n179"><circle class="c4" cx="254" cy="357" r="2"/></g>
<g id="n180"><circle class="c1" cx="253" cy="383" r="4"/></g>
<g id="n181"><circle class="c8" cx="248" cy="405" r="2.5"/></g>
<g id="n182"><circle class="c6" cx="352" cy="106" r="7"/></g>
<g id="n183"><circle class="c8" cx="380" cy="108" r="6.5"/></g>
<g id="n184"><circle class="c2" cx="328" cy="119" r="4"/></g>
<g id="n185"><circle class="c8" cx="343" cy="131" r="6"/></g>
<g id="n186"><circle class="c4" cx="317" cy="139" r="3.5"/></g>
<g id="n187"><circle class="c1" cx="384" cy="142" r="5"/></g>
<g id="n188"><circle class="c8" cx="299" cy="154" r="6"/></g>
<g id="n189"><circle class="c8" cx="351" cy="174" r="6"/></g>
<g id="n190"><circle class="c3" cx="311" cy="192" r="9.5"/></g>
<g id="n191"><circle class="c7" cx="278" cy="192" r="2"/></g>
<g id="n192"><circle class="c6" cx="420" cy="176" r="5"/></g>
<g id="n193"><circle class="c7" cx="326" cy="219" r="7"/></g>
<g id="n194"><circle class="c1" cx="401" cy="277" r="15"/></g>
<g id="n195"><circle class="c7" cx="429" cy="252" r="8"/></g>
<g id="n196"><circle class="c1" cx="423" cy="281" r="3"/></g>
<g id="n197"><circle class="c1" cx="437" cy="281" r="4.5"/></g>
<g id="n198"><circle class="c1" cx="403" cy="297" r="4.5"/></g>
<g id="n199"><circle class="c1" cx="400" cy="315" r="2"/></g>
<g id="n200"><circle class="c1" cx="387" cy="325" r="4.5"/></g>
<g id="n201"><circle class="c1" cx="448" cy="321" r="5"/></g>
<g id="n202"><circle class="c3" cx="334" cy="347" r="4.5"/></g>
<g id="n203"><circle class="c1" cx="445" cy="354" r="5"/></g>
<g id="n204"><circle class="c1" cx="398" cy="363" r="6"/></g>
<g id="n205"><circle class="c0" cx="381" cy="376" r="5"/></g>
<g id="n206"><circle class="c0" cx="434" cy="378" r="6.5"/></g>
<g id="n207"><circle class="c0" cx="414" cy="399" r="5"/></g>
<g id="n208"><circle class="c0" cx="457" cy="398" r="4.5"/></g>
</g>

<!-- highlight ring round the library cluster -->
<g id="library-ring">
<circle cx="701" cy="341" r="62" fill="none" stroke="#444" stroke-width="12" opacity="0.4" filter="url(#blur)"/>
<circle cx="701" cy="341" r="65" fill="none" stroke="#0b1f8f" stroke-width="4.5"/>
</g>

<!-- labelled callouts -->
<g id="callouts">
<path class="arr" d="M221 222C360 200 440 195 532 227"/>
<path class="arr" d="M221 272C320 250 380 236 440 239C470 241 485 255 498.6 271.8"/>
<path class="arr" d="M221 325C330 332 420 340 514 352"/>
<path class="arr" d="M221 374C300 374 340 390 390 402C420 409 460 407 516 406"/>
<path class="arr" d="M221 508C330 509 430 510 490 488C540 470 590 425 633 392"/>
<text class="lbl" x="221" y="230">Model (1)</text>
<text class="lbl" x="221" y="280">ModelFacade (2)</text>
<text class="lbl" x="221" y="333">ProjectManager (3)</text>
<text class="lbl" x="221" y="382">ProjectBrowser (4)</text>
<text class="lbl" x="221" y="514">Java library classes</text>
</g>
</svg>
